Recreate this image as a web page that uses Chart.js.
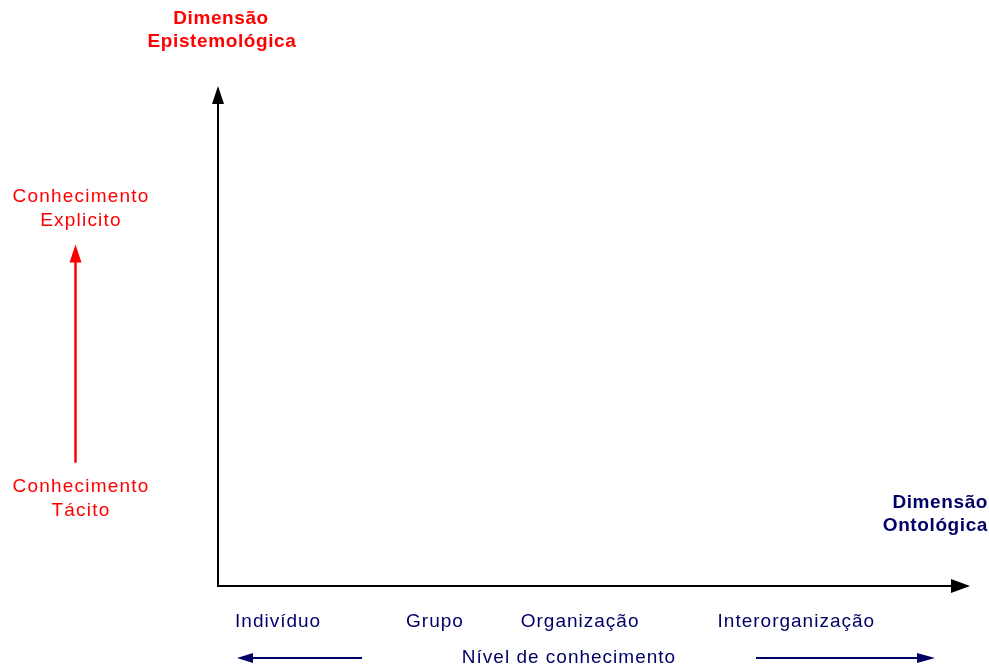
<!DOCTYPE html>
<html><head><meta charset="utf-8">
<script src="https://cdn.jsdelivr.net/npm/chart.js@4/dist/chart.umd.min.js"></script>
<style>html,body{margin:0;padding:0;background:#fff}canvas{display:block}</style>
</head><body>
<canvas id="c" width="989" height="668"></canvas>
<script>
// Ontological dimension: knowledge levels and their position along the axis (0-100)
const levels = ['Indivíduo', 'Grupo', 'Organização', 'Interorganização'];
const levelValues = [8.2, 29.6, 49.4, 78.9];
// Epistemological dimension: knowledge types and their position along the axis (0-100)
const epistemicLabels = [['Conhecimento', 'Tácito'], ['Conhecimento', 'Explicito']];
const epistemicValues = [18.1, 78.3];
// Titles
const yTitle = ['Dimensão', 'Epistemológica'];
const xTitle = ['Dimensão', 'Ontológica'];
const xSubtitle = 'Nível de conhecimento';

const FONT = "'Liberation Sans', Arial, sans-serif";
const RED = '#ff0000';
const NAVY = '#000066';

function arrowHead(ctx, tipX, tipY, dir, len, half, color) {
  ctx.fillStyle = color;
  ctx.beginPath();
  if (dir === 'up') { ctx.moveTo(tipX, tipY); ctx.lineTo(tipX - half, tipY + len); ctx.lineTo(tipX + half, tipY + len); }
  if (dir === 'right') { ctx.moveTo(tipX, tipY); ctx.lineTo(tipX - len, tipY - half); ctx.lineTo(tipX - len, tipY + half); }
  if (dir === 'left') { ctx.moveTo(tipX, tipY); ctx.lineTo(tipX + len, tipY - half); ctx.lineTo(tipX + len, tipY + half); }
  ctx.closePath();
  ctx.fill();
}

const annot = {
  id: 'annot',
  beforeDraw(chart) { chart.ctx.letterSpacing = '1px'; },
  afterDraw(chart) {
    const ctx = chart.ctx;
    const ca = chart.chartArea;
    const ys = chart.scales.y;
    ctx.save();
    // axis arrowheads
    arrowHead(ctx, ca.left, ca.top - 18, 'up', 18, 6, '#000');
    arrowHead(ctx, ca.right + 19, ca.bottom, 'right', 19, 7, '#000');

    ctx.textAlign = 'center';
    ctx.textBaseline = 'middle';
    // Y title
    ctx.letterSpacing = '0.6px';
    ctx.font = 'bold 19px ' + FONT;
    ctx.fillStyle = RED;
    ctx.fillText(yTitle[0], 221, 19);
    ctx.fillText(yTitle[1], 222, 42);
    // X title (right aligned)
    ctx.textAlign = 'right';
    ctx.fillStyle = NAVY;
    ctx.fillText(xTitle[0], 988, 503);
    ctx.fillText(xTitle[1], 988, 526);

    // epistemic labels
    ctx.letterSpacing = '1.2px';
    ctx.textAlign = 'center';
    ctx.font = '19px ' + FONT;
    ctx.fillStyle = RED;
    epistemicLabels.forEach((lines, i) => {
      const yc = ys.getPixelForValue(epistemicValues[i]);
      ctx.fillText(lines[0], 81, yc - 12);
      ctx.fillText(lines[1], 81, yc + 12);
    });
    // red arrow between them
    const yLow = ys.getPixelForValue(epistemicValues[0]) - 36;
    const yHigh = ys.getPixelForValue(epistemicValues[1]) + 36;
    ctx.strokeStyle = RED;
    ctx.lineWidth = 2.5;
    ctx.beginPath();
    ctx.moveTo(75.5, yLow);
    ctx.lineTo(75.5, yHigh + 16);
    ctx.stroke();
    arrowHead(ctx, 75.5, yHigh, 'up', 18, 6, RED);

    // subtitle and navy arrows
    ctx.fillStyle = NAVY;
    ctx.letterSpacing = '1px';
    ctx.fillText(xSubtitle, 569, 658);
    ctx.strokeStyle = NAVY;
    ctx.lineWidth = 2;
    ctx.beginPath();
    ctx.moveTo(362, 658); ctx.lineTo(250, 658);
    ctx.moveTo(756, 658); ctx.lineTo(920, 658);
    ctx.stroke();
    arrowHead(ctx, 237, 658, 'left', 16, 5, NAVY);
    arrowHead(ctx, 935, 658, 'right', 18, 5, NAVY);
    ctx.restore();
  }
};

new Chart(document.getElementById('c'), {
  type: 'scatter',
  data: { datasets: [{ data: [] }] },
  plugins: [annot],
  options: {
    responsive: false,
    animation: false,
    plugins: { legend: { display: false }, tooltip: { enabled: false } },
    layout: { padding: { left: 218, top: 104, right: 38, bottom: 0 } },
    scales: {
      x: {
        type: 'linear', min: 0, max: 100,
        grid: { display: false, drawTicks: false },
        border: { display: true, color: '#000', width: 2 },
        afterBuildTicks(s) { s.ticks = levelValues.map(v => ({ value: v })); },
        afterFit(s) { s.height = 82; },
        ticks: {
          callback: (v, i) => levels[i],
          color: NAVY,
          font: { family: FONT, size: 19 },
          padding: 24,
          autoSkip: false, maxRotation: 0
        }
      },
      y: {
        type: 'linear', min: 0, max: 100,
        grid: { display: false, drawTicks: false },
        border: { display: true, color: '#000', width: 2 },
        ticks: { display: false },
        afterFit(s) { s.width = 0; }
      }
    }
  }
});
</script>
</body></html>
